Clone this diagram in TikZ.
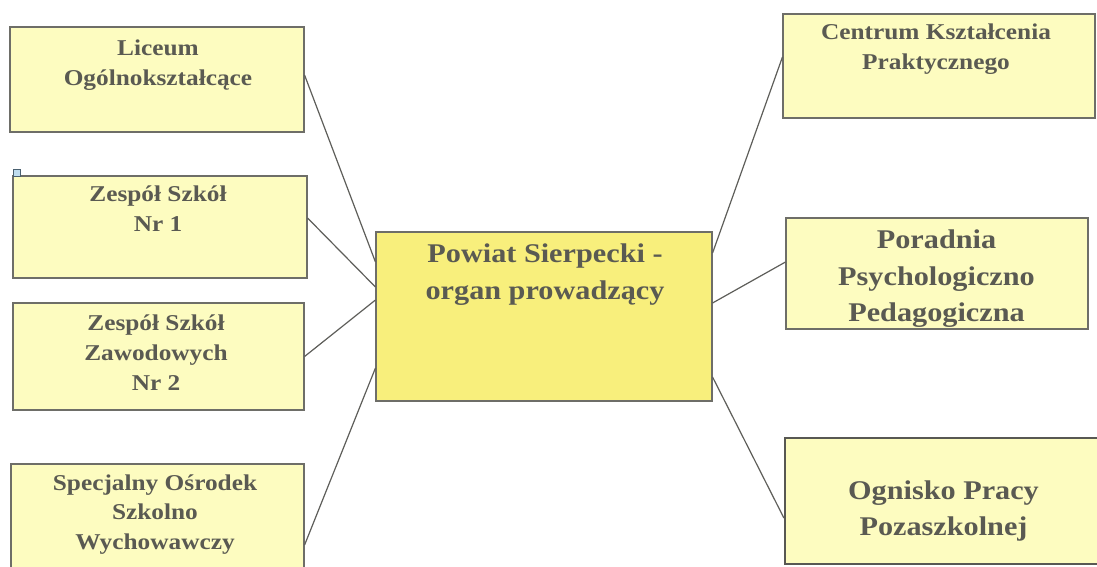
\documentclass[tikz,border=0pt]{standalone}
\usepackage{fontspec}
\setmainfont{Liberation Serif}[FakeStretch=1.12]
\definecolor{boxfill}{HTML}{FDFCC0}
\definecolor{mainfill}{HTML}{F8EF7C}
\definecolor{boxline}{HTML}{6E6E68}
\definecolor{txtcol}{HTML}{5A5A52}
\definecolor{linkcol}{HTML}{5E5E5A}
\definecolor{handlefill}{HTML}{BFDCEE}
\definecolor{handleline}{HTML}{4A6070}
\begin{document}
\begin{tikzpicture}[x=1pt,y=-1pt,
  box/.style={draw=boxline,line width=1.1pt,fill=boxfill,inner sep=0pt,rectangle},
  mainbox/.style={box,fill=mainfill},
  thickbox/.style={box,line width=2.2pt,draw=boxline!80!black},
  smalltxt/.style={text=txtcol,align=center,inner sep=0pt,font=\bfseries\fontsize{22.6}{29.8}\selectfont},
  bigtxt/.style={text=txtcol,align=center,inner sep=0pt,font=\bfseries\fontsize{27}{36.5}\selectfont},
  link/.style={draw=linkcol,line width=1.2pt}]
\clip (0,0) rectangle (1097,566);
\fill[white] (0,0) rectangle (1097,566);
% boxes
\node[box,minimum width=294pt,minimum height=105pt] (lic) at (157,79.5) {};
\node[box,minimum width=294pt,minimum height=102pt] (zs1) at (160,227) {};
\node[box,minimum width=291pt,minimum height=107pt] (zsz) at (158.5,356.5) {};
\node[box,minimum width=293pt,minimum height=136pt] (sos) at (157.5,532) {};
\node[mainbox,minimum width=336pt,minimum height=169pt] (pow) at (544,316.5) {};
\node[box,minimum width=312pt,minimum height=104pt] (ckp) at (939,66) {};
\node[box,minimum width=302pt,minimum height=111pt] (ppp) at (937,273.5) {};
\node[thickbox,minimum width=335pt,minimum height=126pt] (ogn) at (952.5,501) {};
% selection handle
\draw[handleline,fill=handlefill,line width=0.8pt] (13,169) rectangle (20,176);
% texts
\node[smalltxt] (tlic) at (158,65) {Liceum\\Ogólnokształcące};
\node[smalltxt] (tzs1) at (158,209) {Zespół Szkół\\Nr 1};
\node[smalltxt] (tzsz) at (156,352.5) {Zespół Szkół\\Zawodowych\\Nr 2};
\node[smalltxt] (tsos) at (155,514.5) {Specjalny Ośrodek\\Szkolno\\Wychowawczy};
\node[bigtxt] (tpow) at (545,274.5) {Powiat Sierpecki -\\organ prowadzący};
\node[smalltxt] (tckp) at (936,49) {Centrum Kształcenia\\Praktycznego};
\node[bigtxt] (tppp) at (936.5,279) {Poradnia\\Psychologiczno\\Pedagogiczna};
\node[bigtxt] (togn) at (943.5,511) {Ognisko Pracy\\Pozaszkolnej};
% connectors
\draw[link] ([yshift=4.5pt]lic.east) -- ([yshift=54.5pt]pow.west);
\draw[link] ([yshift=9pt]zs1.east) -- ([yshift=29.5pt]pow.west);
\draw[link] (zsz.east) -- ([yshift=16.5pt]pow.west);
\draw[link] ([yshift=-13pt]sos.east) -- ([yshift=-51.5pt]pow.west);
\draw[link] ([yshift=9pt]ckp.west) -- ([yshift=63.5pt]pow.east);
\draw[link] ([yshift=11.5pt]ppp.west) -- ([yshift=13.5pt]pow.east);
\draw[link] ([yshift=-17pt]ogn.west) -- ([yshift=-60.5pt]pow.east);
\end{tikzpicture}
\end{document}
